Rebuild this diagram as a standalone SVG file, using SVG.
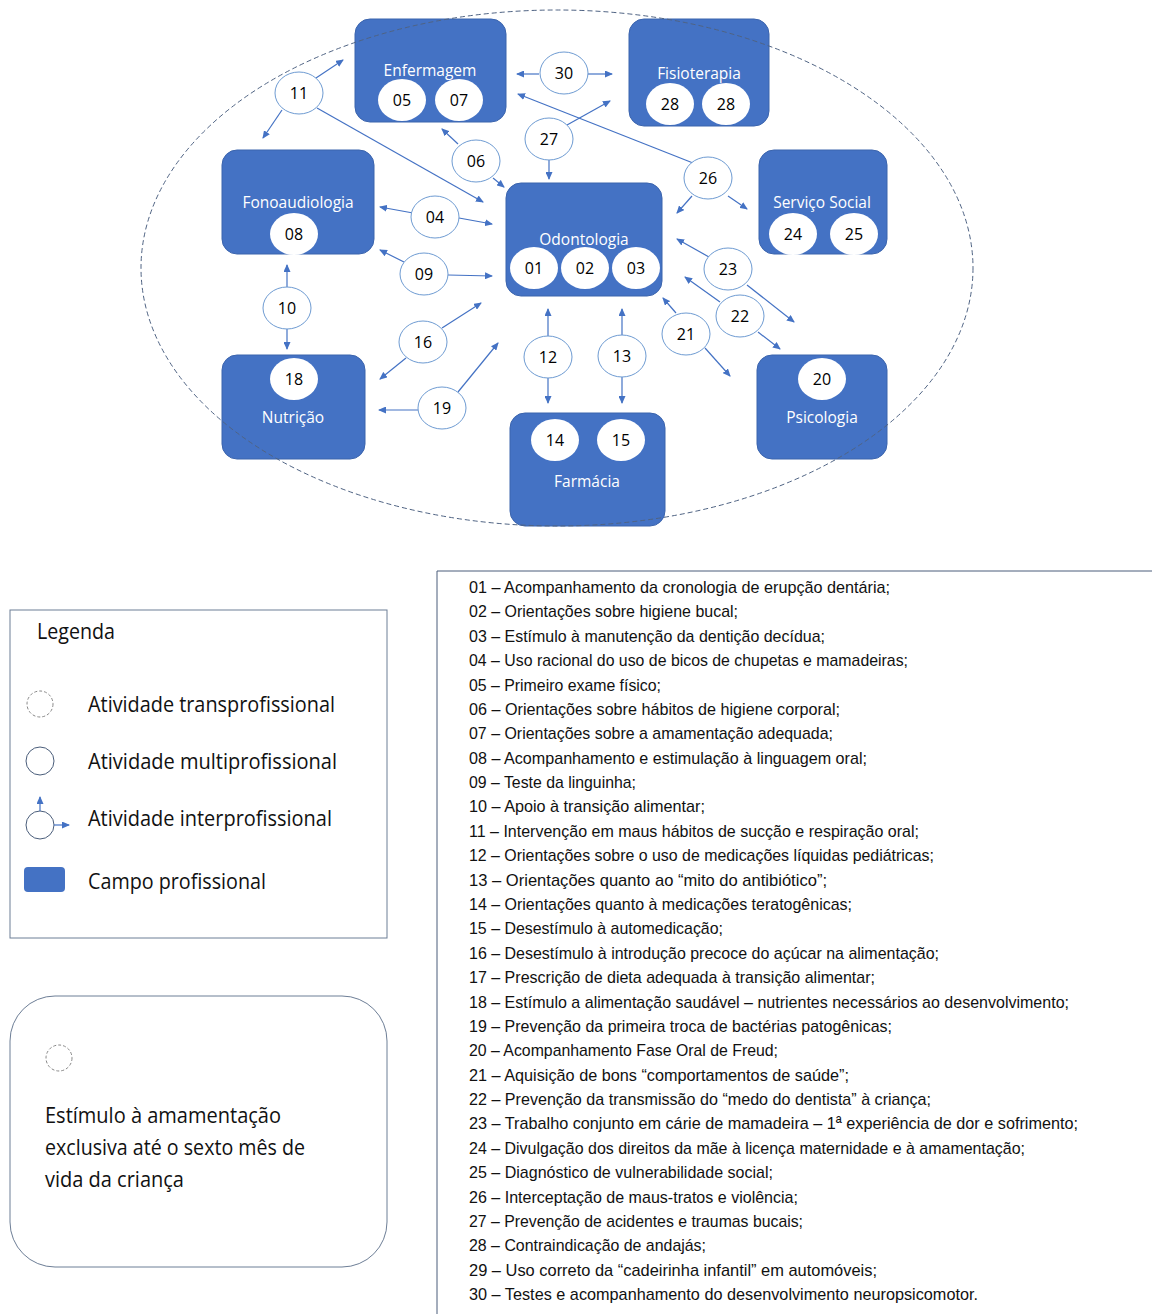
<svg xmlns="http://www.w3.org/2000/svg" width="1152" height="1314" viewBox="0 0 1152 1314">
<defs>
<marker id="ah" markerUnits="userSpaceOnUse" markerWidth="8" markerHeight="7" refX="7" refY="3.5" orient="auto">
<path d="M0,0 L8,3.5 L0,7 z" fill="#4472C4"/>
</marker>
<style>
.box{fill:#4472C4;stroke:#3B64AD;stroke-width:1}
.blbl{font-family:"Open Sans","Liberation Sans",sans-serif;font-size:15.5px;fill:#fff;text-anchor:middle}
.wc{fill:#fff;stroke:none}
.num{font-family:"Open Sans","Liberation Sans",sans-serif;font-size:16px;fill:#000;text-anchor:middle}
.lc{fill:#fff;stroke:#6E9BD2;stroke-width:1}
.con line{stroke:#4472C4;stroke-width:1.2;marker-end:url(#ah)}
.lst{font-family:"Liberation Sans Narrow","Liberation Sans",sans-serif;font-size:17px;fill:#111}
.leg{font-family:"Open Sans","Liberation Sans",sans-serif;font-size:21px;fill:#111}
</style>
</defs>
<rect width="1152" height="1314" fill="#fff"/>

<g id="enfermagem">
<rect class="box" x="355" y="19" width="151" height="103" rx="15"/>
<text class="blbl" x="430" y="76">Enfermagem</text>
<ellipse class="wc" cx="402" cy="100" rx="24" ry="21"/><text class="num" x="402" y="106">05</text>
<ellipse class="wc" cx="459" cy="100" rx="24" ry="21"/><text class="num" x="459" y="106">07</text>
</g>
<g id="fisioterapia">
<rect class="box" x="629" y="19" width="140" height="107" rx="15"/>
<text class="blbl" x="699" y="79">Fisioterapia</text>
<ellipse class="wc" cx="670" cy="104" rx="24" ry="21"/><text class="num" x="670" y="110">28</text>
<ellipse class="wc" cx="726" cy="104" rx="24" ry="21"/><text class="num" x="726" y="110">28</text>
</g>
<g id="fonoaudiologia">
<rect class="box" x="222" y="150" width="152" height="104" rx="15"/>
<text class="blbl" x="298" y="208">Fonoaudiologia</text>
<ellipse class="wc" cx="294" cy="234" rx="24" ry="21"/><text class="num" x="294" y="240">08</text>
</g>
<g id="odontologia">
<rect class="box" x="506" y="183" width="156" height="113" rx="15"/>
<text class="blbl" x="584" y="245">Odontologia</text>
<ellipse class="wc" cx="534" cy="268" rx="24" ry="21"/><text class="num" x="534" y="274">01</text>
<ellipse class="wc" cx="585" cy="268" rx="24" ry="21"/><text class="num" x="585" y="274">02</text>
<ellipse class="wc" cx="636" cy="268" rx="24" ry="21"/><text class="num" x="636" y="274">03</text>
</g>
<g id="servico-social">
<rect class="box" x="759" y="150" width="128" height="104" rx="15"/>
<text class="blbl" x="822" y="208">Serviço Social</text>
<ellipse class="wc" cx="793" cy="234" rx="24" ry="21"/><text class="num" x="793" y="240">24</text>
<ellipse class="wc" cx="854" cy="234" rx="24" ry="21"/><text class="num" x="854" y="240">25</text>
</g>
<g id="nutricao">
<rect class="box" x="222" y="355" width="143" height="104" rx="15"/>
<ellipse class="wc" cx="294" cy="379" rx="24" ry="21"/><text class="num" x="294" y="385">18</text>
<text class="blbl" x="293" y="423">Nutrição</text>
</g>
<g id="farmacia">
<rect class="box" x="510" y="413" width="155" height="113" rx="15"/>
<ellipse class="wc" cx="555" cy="440" rx="24" ry="21"/><text class="num" x="555" y="446">14</text>
<ellipse class="wc" cx="621" cy="440" rx="24" ry="21"/><text class="num" x="621" y="446">15</text>
<text class="blbl" x="587" y="487">Farmácia</text>
</g>
<g id="psicologia">
<rect class="box" x="757" y="355" width="130" height="104" rx="15"/>
<ellipse class="wc" cx="822" cy="379" rx="24" ry="21"/><text class="num" x="822" y="385">20</text>
<text class="blbl" x="822" y="423">Psicologia</text>
</g>

<ellipse id="campo-transprofissional" cx="557" cy="268" rx="416" ry="258" fill="none" stroke="#4F6383" stroke-width="1" stroke-dasharray="5,3"/>

<g id="connectors" class="con">
<line x1="316" y1="78" x2="343" y2="60"/>
<line x1="282" y1="110" x2="263" y2="138"/>
<line x1="317" y1="108" x2="483" y2="202"/>
<line x1="458" y1="144" x2="442" y2="129"/>
<line x1="493" y1="178" x2="504" y2="187"/>
<line x1="413" y1="213" x2="380" y2="207"/>
<line x1="459" y1="218" x2="492" y2="224"/>
<line x1="404" y1="262" x2="380" y2="250"/>
<line x1="448" y1="275" x2="492" y2="276"/>
<line x1="539" y1="74" x2="517" y2="74"/>
<line x1="588" y1="74" x2="612" y2="74"/>
<line x1="693" y1="163" x2="518" y2="94"/>
<line x1="567" y1="125" x2="610" y2="101"/>
<line x1="549" y1="160" x2="549" y2="179"/>
<line x1="692" y1="196" x2="677" y2="213"/>
<line x1="728" y1="196" x2="747" y2="209"/>
<line x1="709" y1="257" x2="677" y2="239"/>
<line x1="747" y1="285" x2="794" y2="322"/>
<line x1="720" y1="302" x2="685" y2="277"/>
<line x1="758" y1="332" x2="780" y2="349"/>
<line x1="676" y1="313" x2="663" y2="298"/>
<line x1="705" y1="348" x2="730" y2="376"/>
<line x1="548" y1="337" x2="548" y2="309"/>
<line x1="548" y1="378" x2="548" y2="403"/>
<line x1="622" y1="336" x2="622" y2="309"/>
<line x1="622" y1="377" x2="622" y2="403"/>
<line x1="287" y1="288" x2="287" y2="265"/>
<line x1="287" y1="329" x2="287" y2="349"/>
<line x1="442" y1="328" x2="481" y2="303"/>
<line x1="406" y1="358" x2="380" y2="379"/>
<line x1="418" y1="410" x2="379" y2="410"/>
<line x1="458" y1="392" x2="498" y2="343"/>
</g>

<g id="labels">
<g id="l11"><ellipse class="lc" cx="299" cy="93" rx="24" ry="21"/><text class="num" x="299" y="99">11</text></g>
<g id="l30"><ellipse class="lc" cx="564" cy="73" rx="24" ry="21"/><text class="num" x="564" y="79">30</text></g>
<g id="l27"><ellipse class="lc" cx="549" cy="139" rx="24" ry="21"/><text class="num" x="549" y="145">27</text></g>
<g id="l06"><ellipse class="lc" cx="476" cy="161" rx="24" ry="21"/><text class="num" x="476" y="167">06</text></g>
<g id="l26"><ellipse class="lc" cx="708" cy="178" rx="24" ry="21"/><text class="num" x="708" y="184">26</text></g>
<g id="l04"><ellipse class="lc" cx="435" cy="217" rx="24" ry="21"/><text class="num" x="435" y="223">04</text></g>
<g id="l09"><ellipse class="lc" cx="424" cy="274" rx="24" ry="21"/><text class="num" x="424" y="280">09</text></g>
<g id="l23"><ellipse class="lc" cx="728" cy="269" rx="24" ry="21"/><text class="num" x="728" y="275">23</text></g>
<g id="l10"><ellipse class="lc" cx="287" cy="308" rx="24" ry="21"/><text class="num" x="287" y="314">10</text></g>
<g id="l22"><ellipse class="lc" cx="740" cy="316" rx="24" ry="21"/><text class="num" x="740" y="322">22</text></g>
<g id="l21"><ellipse class="lc" cx="686" cy="334" rx="24" ry="21"/><text class="num" x="686" y="340">21</text></g>
<g id="l16"><ellipse class="lc" cx="423" cy="342" rx="24" ry="21"/><text class="num" x="423" y="348">16</text></g>
<g id="l12"><ellipse class="lc" cx="548" cy="357" rx="24" ry="21"/><text class="num" x="548" y="363">12</text></g>
<g id="l13"><ellipse class="lc" cx="622" cy="356" rx="24" ry="21"/><text class="num" x="622" y="362">13</text></g>
<g id="l19"><ellipse class="lc" cx="442" cy="408" rx="24" ry="21"/><text class="num" x="442" y="414">19</text></g>
</g>

<g id="legenda">
<rect x="10" y="610" width="377" height="328" fill="#fff" stroke="#6D7E96" stroke-width="1"/>
<text class="leg" x="37" y="639" textLength="78" lengthAdjust="spacingAndGlyphs">Legenda</text>
<circle cx="40" cy="704" r="13" fill="none" stroke="#888" stroke-width="1" stroke-dasharray="3,2"/>
<text class="leg" x="88" y="712" textLength="247" lengthAdjust="spacingAndGlyphs">Atividade transprofissional</text>
<circle cx="40" cy="761" r="14" fill="none" stroke="#4A5D7A" stroke-width="1"/>
<text class="leg" x="88" y="769" textLength="249" lengthAdjust="spacingAndGlyphs">Atividade multiprofissional</text>
<circle cx="40" cy="825" r="14" fill="none" stroke="#4A5D7A" stroke-width="1"/>
<line x1="40" y1="811" x2="40" y2="797" stroke="#4472C4" stroke-width="1.2" marker-end="url(#ah)"/>
<line x1="54" y1="825" x2="69" y2="825" stroke="#4472C4" stroke-width="1.2" marker-end="url(#ah)"/>
<text class="leg" x="88" y="826" textLength="244" lengthAdjust="spacingAndGlyphs">Atividade interprofissional</text>
<rect x="24" y="867" width="41" height="25" rx="4" fill="#4472C4"/>
<text class="leg" x="88" y="889" textLength="178" lengthAdjust="spacingAndGlyphs">Campo profissional</text>
</g>

<g id="transprofissional">
<rect x="10" y="996" width="377" height="271" rx="45" fill="#fff" stroke="#6D7E96" stroke-width="1"/>
<circle cx="59" cy="1058" r="13" fill="none" stroke="#888" stroke-width="1" stroke-dasharray="3,2"/>
<text class="leg" x="45" y="1123" textLength="236" lengthAdjust="spacingAndGlyphs">Estímulo à amamentação</text>
<text class="leg" x="45" y="1155" textLength="260" lengthAdjust="spacingAndGlyphs">exclusiva até o sexto mês de</text>
<text class="leg" x="45" y="1187" textLength="139" lengthAdjust="spacingAndGlyphs">vida da criança</text>
</g>

<g id="lista">
<polyline points="437,1314 437,571 1152,571" fill="none" stroke="#4A5D7A" stroke-width="1"/>
<text class="lst" x="469" y="593" textLength="421" lengthAdjust="spacingAndGlyphs">01 – Acompanhamento da cronologia de erupção dentária;</text>
<text class="lst" x="469" y="617.4" textLength="269" lengthAdjust="spacingAndGlyphs">02 – Orientações sobre higiene bucal;</text>
<text class="lst" x="469" y="641.8" textLength="356" lengthAdjust="spacingAndGlyphs">03 – Estímulo à manutenção da dentição decídua;</text>
<text class="lst" x="469" y="666.1" textLength="439" lengthAdjust="spacingAndGlyphs">04 – Uso racional do uso de bicos de chupetas e mamadeiras;</text>
<text class="lst" x="469" y="690.5" textLength="192" lengthAdjust="spacingAndGlyphs">05 – Primeiro exame físico;</text>
<text class="lst" x="469" y="714.9" textLength="371" lengthAdjust="spacingAndGlyphs">06 – Orientações sobre hábitos de higiene corporal;</text>
<text class="lst" x="469" y="739.3" textLength="364" lengthAdjust="spacingAndGlyphs">07 – Orientações sobre a amamentação adequada;</text>
<text class="lst" x="469" y="763.7" textLength="398" lengthAdjust="spacingAndGlyphs">08 – Acompanhamento e estimulação à linguagem oral;</text>
<text class="lst" x="469" y="788" textLength="167" lengthAdjust="spacingAndGlyphs">09 – Teste da linguinha;</text>
<text class="lst" x="469" y="812.4" textLength="236" lengthAdjust="spacingAndGlyphs">10 – Apoio à transição alimentar;</text>
<text class="lst" x="469" y="836.8" textLength="450" lengthAdjust="spacingAndGlyphs">11 – Intervenção em maus hábitos de sucção e respiração oral;</text>
<text class="lst" x="469" y="861.2" textLength="465" lengthAdjust="spacingAndGlyphs">12 – Orientações sobre o uso de medicações líquidas pediátricas;</text>
<text class="lst" x="469" y="885.6" textLength="358" lengthAdjust="spacingAndGlyphs">13 – Orientações quanto ao “mito do antibiótico”;</text>
<text class="lst" x="469" y="909.9" textLength="383" lengthAdjust="spacingAndGlyphs">14 – Orientações quanto à medicações teratogênicas;</text>
<text class="lst" x="469" y="934.3" textLength="254" lengthAdjust="spacingAndGlyphs">15 – Desestímulo à automedicação;</text>
<text class="lst" x="469" y="958.7" textLength="470" lengthAdjust="spacingAndGlyphs">16 – Desestímulo à introdução precoce do açúcar na alimentação;</text>
<text class="lst" x="469" y="983.1" textLength="406" lengthAdjust="spacingAndGlyphs">17 – Prescrição de dieta adequada à transição alimentar;</text>
<text class="lst" x="469" y="1007.5" textLength="600" lengthAdjust="spacingAndGlyphs">18 – Estímulo a alimentação saudável – nutrientes necessários ao desenvolvimento;</text>
<text class="lst" x="469" y="1031.8" textLength="423" lengthAdjust="spacingAndGlyphs">19 – Prevenção da primeira troca de bactérias patogênicas;</text>
<text class="lst" x="469" y="1056.2" textLength="309" lengthAdjust="spacingAndGlyphs">20 – Acompanhamento Fase Oral de Freud;</text>
<text class="lst" x="469" y="1080.6" textLength="380" lengthAdjust="spacingAndGlyphs">21 – Aquisição de bons “comportamentos de saúde”;</text>
<text class="lst" x="469" y="1105" textLength="462" lengthAdjust="spacingAndGlyphs">22 – Prevenção da transmissão do “medo do dentista” à criança;</text>
<text class="lst" x="469" y="1129.4" textLength="609" lengthAdjust="spacingAndGlyphs">23 – Trabalho conjunto em cárie de mamadeira – 1ª experiência de dor e sofrimento;</text>
<text class="lst" x="469" y="1153.7" textLength="556" lengthAdjust="spacingAndGlyphs">24 – Divulgação dos direitos da mãe à licença maternidade e à amamentação;</text>
<text class="lst" x="469" y="1178.1" textLength="304" lengthAdjust="spacingAndGlyphs">25 – Diagnóstico de vulnerabilidade social;</text>
<text class="lst" x="469" y="1202.5" textLength="329" lengthAdjust="spacingAndGlyphs">26 – Interceptação de maus-tratos e violência;</text>
<text class="lst" x="469" y="1226.9" textLength="334" lengthAdjust="spacingAndGlyphs">27 – Prevenção de acidentes e traumas bucais;</text>
<text class="lst" x="469" y="1251.3" textLength="237" lengthAdjust="spacingAndGlyphs">28 – Contraindicação de andajás;</text>
<text class="lst" x="469" y="1275.6" textLength="408" lengthAdjust="spacingAndGlyphs">29 – Uso correto da “cadeirinha infantil” em automóveis;</text>
<text class="lst" x="469" y="1300" textLength="509" lengthAdjust="spacingAndGlyphs">30 – Testes e acompanhamento do desenvolvimento neuropsicomotor.</text>
</g>
</svg>
